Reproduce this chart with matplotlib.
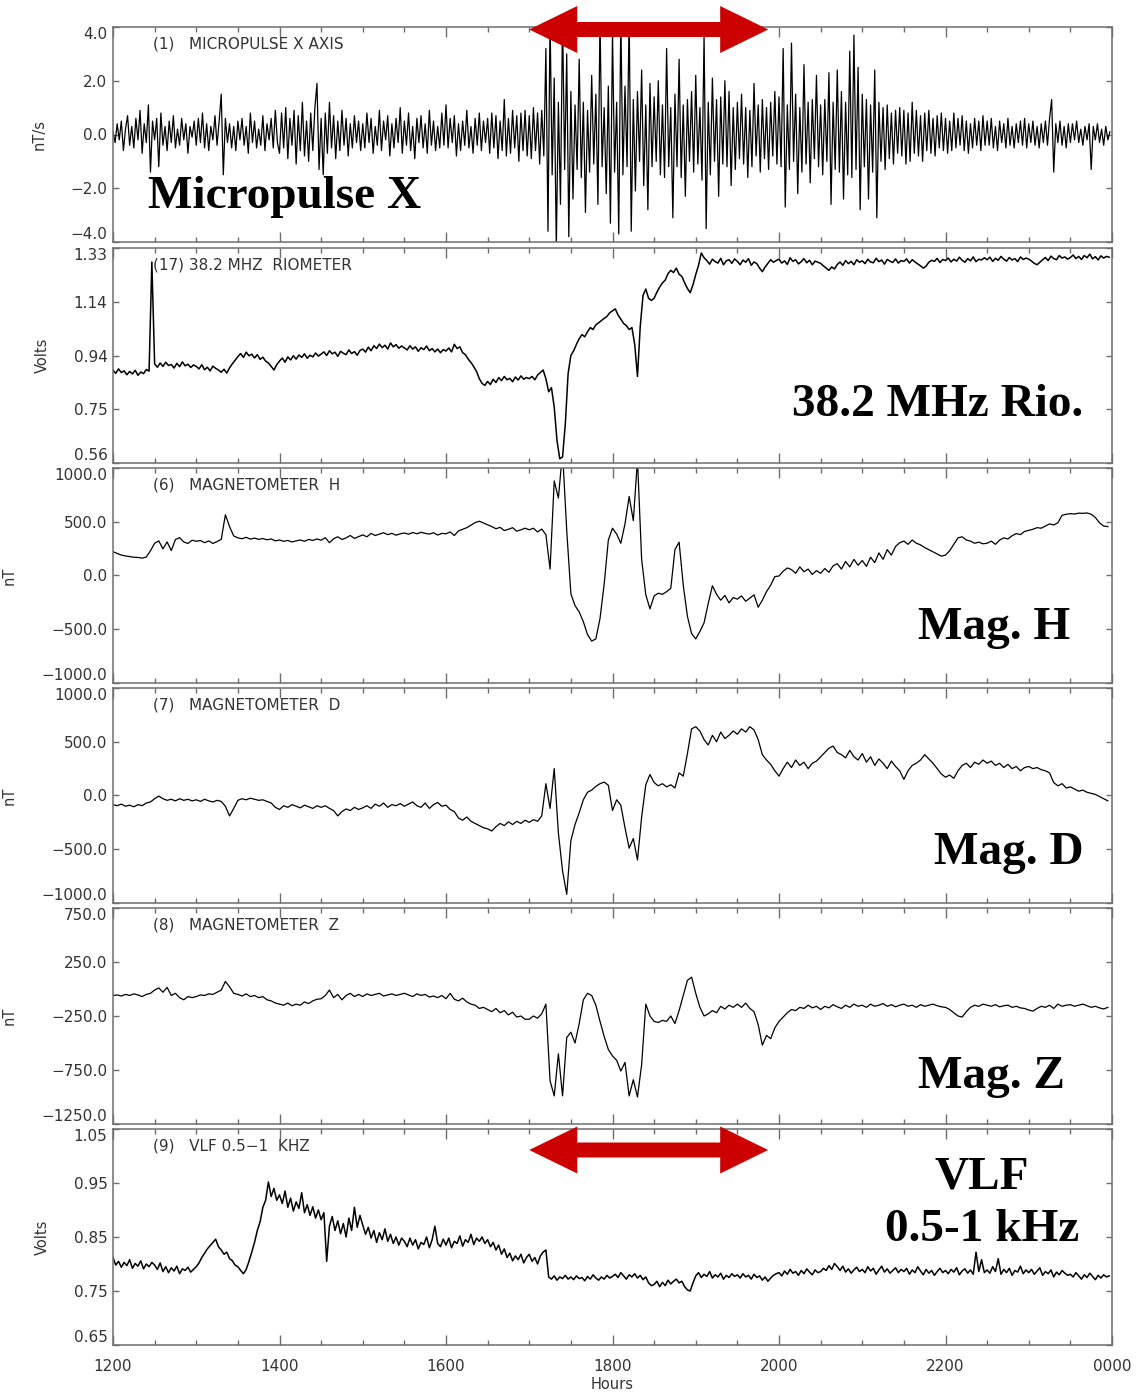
import numpy as np
import matplotlib
matplotlib.use('Agg')
from matplotlib import pyplot as plt
from matplotlib.patches import Polygon
from matplotlib.transforms import blended_transform_factory

# all series start at 1200 UT, times in hours
t0 = 12.0

# micropulse X axis, nT/s, one value every 1.5 min
micropulse_x = [
    0.1,-0.3,0.4,-0.2,0.5, -0.6,0.2,0.7,-0.4,0.3, -0.5,0.6,-0.2,0.9,-0.7, 0.4,-0.3,1.1,-1.4,0.5,
    -0.2,0.6,-1.2,0.8,-0.4, 0.3,-0.6,0.5,-0.3,0.7, -0.5,0.2,-0.4,0.6,-0.2, 0.4,-0.7,0.3,-0.1,0.5,
    -0.4,0.6,-0.3,0.8,-0.5, 0.4,-0.6,0.3,-0.2,0.7, -0.4,0.5,1.5,-1.5,0.6, -0.3,0.4,-0.5,0.3,-0.6,
    0.5,-0.2,0.6,-0.4,0.3, -0.7,0.8,-0.3,0.5,-0.5, 0.2,-0.4,0.7,-0.6,0.4, -0.2,0.6,-0.5,0.9,-0.3,
    -0.7,0.8,-0.5,1.0,-0.9, 0.6,-0.4,0.9,-1.1,0.7, -0.6,1.2,-0.8,0.5,-1.0, 0.8,-0.6,1.0,1.9,-1.3,
    0.6,-1.5,0.8,-0.7,1.2, -0.5,0.7,-0.9,0.5,-0.6, 0.9,-0.4,0.6,-0.8,0.4, -0.5,0.7,-0.3,0.5,-0.6,
    0.4,-0.5,0.8,-0.3,0.6, -0.7,0.3,-0.4,0.9,-0.6, 0.5,-0.2,0.7,-0.8,0.4, -0.5,0.6,-0.3,1.0,-0.7,
    0.5,-0.4,0.8,-0.6,0.3, -0.9,0.6,-0.3,0.7,-0.5, 0.4,-0.7,0.9,-0.4,0.5, -0.6,0.3,-0.5,0.8,-0.4,
    1.1,-0.5,0.6,-0.3,0.7, -0.8,0.4,-0.6,0.5,-0.4, 0.9,-0.5,0.3,-0.7,0.6, -0.4,0.8,-0.6,0.5,-0.3,
    0.6,-0.7,0.8,-0.5,0.7, -0.9,0.5,-0.6,1.3,-0.8, 0.6,-0.7,0.9,-0.5,0.7, -1.0,0.8,-0.6,0.9,-0.8,
    0.7,-0.9,1.0,-0.6,0.8, -1.1,0.9,-0.8,3.2,-3.6, 4.3,-1.5,2.1,-4.2,1.2, -2.6,4.4,-1.3,3.0,-3.8,
    1.6,-2.4,1.1,-1.3,2.8, -1.6,1.2,-2.9,0.9,-1.4, 2.2,-1.1,1.5,-2.6,4.3, -1.2,1.0,-2.2,1.8,-3.3,
    3.8,-1.4,1.2,-3.7,4.4, -1.5,1.8,-1.2,4.5,-3.6, 1.3,-2.1,1.6,-1.0,2.4, -1.9,1.1,-2.8,1.9,-1.2,
    1.4,-1.0,2.0,-1.5,1.1, -1.6,3.2,-1.2,1.0,-3.1, 1.5,-1.2,2.8,-1.6,1.1, -2.3,1.3,-1.0,1.6,-1.4,
    2.2,-1.1,1.0,-1.7,3.7, -3.5,1.2,-1.5,2.1,-1.0, 1.3,-2.3,1.4,-1.1,2.0, -1.2,1.6,-1.9,1.0,-1.3,
    1.2,-0.9,1.5,-1.1,1.0, -1.6,0.9,-1.2,1.9,-0.8, 1.1,-1.4,1.3,-0.9,1.0, -1.3,1.2,-0.8,1.6,-1.1,
    1.4,-1.2,3.2,-2.7,1.1, -1.3,3.4,-1.0,1.5,-2.2, 1.0,-1.4,2.6,-1.1,1.2, -1.8,1.3,-0.9,2.2,-1.2,
    1.1,-1.5,1.3,-1.0,2.3, -2.6,1.2,-1.3,2.4,-1.4, 1.6,-2.4,1.2,-1.5,3.1, -1.6,3.7,-1.3,2.5,-2.8,
    1.5,-1.2,1.3,-2.4,1.1, -1.4,2.4,-3.1,1.2,-1.0, 1.0,-1.3,1.1,-0.9,0.8, -1.1,0.9,-0.7,1.0,-0.8,
    0.9,-1.1,0.8,-1.0,1.2, -0.7,0.9,-0.8,0.7,-1.0, 0.8,-0.6,0.9,-0.7,0.6, -0.8,0.7,-0.5,0.8,-0.6,
    0.6,-0.7,0.5,-0.6,0.8, -0.5,0.6,-0.4,0.7,-0.6, 0.5,-0.7,0.4,-0.5,0.6, -0.4,0.5,-0.6,0.7,-0.4,
    0.5,-0.4,0.6,-0.5,0.3, -0.6,0.5,-0.3,0.4,-0.5, 0.6,-0.4,0.3,-0.5,0.4, -0.3,0.5,-0.4,0.6,-0.5,
    0.4,-0.3,0.5,-0.4,0.3, -0.5,0.4,-0.3,0.5,-0.4, 0.6,1.3,-1.4,0.4,-0.3, 0.5,-0.4,0.3,-0.5,0.4,
    -0.3,0.4,-0.2,0.5,-0.3, 0.2,-0.4,0.3,-0.2,0.4, -1.3,0.3,-0.2,0.4,-0.3, 0.2,-0.4,0.3,-0.2,0.1,
]

# 38.2 MHz riometer, volts, every 2 min
riometer = [
    0.893,0.881,0.897,0.884,0.890, 0.876,0.888,0.879,0.892,0.874, 0.886,0.880,0.895,0.889,1.280,
    0.915,0.903,0.918,0.906,0.921, 0.909,0.913,0.900,0.917,0.905, 0.922,0.908,0.914,0.902,0.911,
    0.906,0.897,0.912,0.894,0.903, 0.890,0.907,0.899,0.893,0.885, 0.896,0.882,0.901,0.915,0.928,
    0.941,0.952,0.938,0.957,0.944, 0.950,0.936,0.948,0.931,0.939, 0.925,0.918,0.906,0.893,0.912,
    0.925,0.936,0.921,0.940,0.929, 0.944,0.932,0.947,0.938,0.951, 0.935,0.946,0.940,0.954,0.943,
    0.950,0.958,0.945,0.962,0.951, 0.957,0.942,0.960,0.953,0.948, 0.965,0.952,0.959,0.946,0.963,
    0.968,0.957,0.975,0.962,0.980, 0.970,0.986,0.973,0.982,0.968, 0.990,0.976,0.984,0.971,0.979,
    0.972,0.965,0.980,0.968,0.976, 0.960,0.973,0.966,0.979,0.962, 0.970,0.958,0.968,0.955,0.966,
    0.961,0.972,0.958,0.985,0.970, 0.976,0.955,0.948,0.932,0.920, 0.905,0.888,0.862,0.845,0.838,
    0.852,0.841,0.860,0.848,0.866, 0.855,0.870,0.858,0.863,0.851, 0.868,0.857,0.872,0.860,0.866,
    0.862,0.870,0.858,0.875,0.884, 0.893,0.862,0.815,0.830,0.760, 0.640,0.575,0.582,0.700,0.880,
    0.945,0.962,0.985,1.005,1.020, 1.012,1.030,1.045,1.038,1.055, 1.062,1.070,1.078,1.085,1.098,
    1.105,1.112,1.090,1.075,1.060, 1.052,1.038,1.045,0.985,0.870, 1.050,1.160,1.183,1.150,1.142,
    1.150,1.172,1.190,1.205,1.215, 1.238,1.250,1.242,1.258,1.236, 1.228,1.205,1.185,1.170,1.198,
    1.235,1.268,1.312,1.295,1.285, 1.272,1.290,1.281,1.276,1.293, 1.270,1.284,1.288,1.275,1.291,
    1.282,1.270,1.287,1.279,1.292, 1.268,1.280,1.274,1.258,1.245, 1.262,1.275,1.288,1.279,1.285,
    1.290,1.276,1.284,1.271,1.295, 1.282,1.288,1.273,1.281,1.292, 1.277,1.286,1.270,1.283,1.279,
    1.275,1.266,1.258,1.250,1.262, 1.255,1.271,1.280,1.268,1.285, 1.274,1.282,1.270,1.288,1.279,
    1.284,1.274,1.290,1.280,1.277, 1.293,1.281,1.287,1.272,1.289, 1.283,1.278,1.291,1.276,1.285,
    1.282,1.291,1.276,1.288,1.280, 1.273,1.266,1.258,1.265,1.279, 1.286,1.282,1.293,1.278,1.289,
    1.285,1.294,1.280,1.290,1.283, 1.297,1.286,1.279,1.292,1.284, 1.298,1.281,1.290,1.287,1.295,
    1.288,1.297,1.282,1.293,1.286, 1.300,1.290,1.283,1.296,1.287, 1.292,1.281,1.298,1.289,1.294,
    1.290,1.283,1.275,1.270,1.279, 1.288,1.296,1.285,1.301,1.292, 1.288,1.303,1.294,1.298,1.290,
    1.296,1.305,1.292,1.300,1.289, 1.303,1.295,1.308,1.291,1.299, 1.287,1.302,1.294,1.300,1.297,
]

# magnetometer components, nT, every 3 min
mag_h = [
    222,205,190,182,176, 170,168,162,172,230,
    300,322,248,312,232, 335,352,312,298,328,
    318,326,305,322,298, 315,336,565,455,368,
    350,342,355,338,348, 336,344,332,340,322,
    330,318,326,312,322, 330,318,335,326,340,
    328,352,305,342,360, 335,350,372,345,362,
    378,360,392,372,385, 398,380,392,375,388,
    395,384,400,388,402, 392,385,398,376,392,
    388,405,372,415,430, 445,468,492,505,488,
    470,455,435,448,418, 430,445,412,425,440,
    425,440,405,432,380, 60,880,720,1150,420,
    -170,-280,-340,-430,-550, -610,-590,-400,-80,330,
    440,385,300,480,735, 510,1080,150,-180,-310,
    -190,-165,-175,-150,-120, 240,310,-90,-380,-540,
    -590,-520,-440,-260,-95, -175,-230,-185,-255,-205,
    -220,-190,-240,-210,-180, -295,-230,-150,-90,-10,
    -5,40,70,55,20, 80,35,60,10,45,
    20,65,30,90,110, 60,130,80,150,95,
    140,85,170,120,210, 150,240,190,270,305,
    320,290,330,300,285, 260,240,220,200,180,
    190,230,290,350,360, 330,320,300,310,295,
    300,320,290,330,350, 340,370,390,380,410,
    420,430,445,440,460, 480,470,490,560,570,
    575,572,580,578,582, 570,540,490,460,455,
]

mag_d = [
    -85,-95,-80,-100,-90, -105,-85,-95,-70,-60,
    -30,-5,-30,-45,-35, -50,-30,-45,-35,-50,
    -40,-55,-35,-50,-60, -45,-55,-100,-190,-120,
    -45,-30,-40,-25,-35, -45,-40,-55,-70,-110,
    -130,-95,-110,-85,-100, -115,-90,-105,-120,-95,
    -110,-95,-120,-140,-190, -150,-125,-140,-110,-130,
    -115,-95,-120,-80,-100, -70,-110,-85,-95,-75,
    -100,-80,-60,-95,-110, -70,-120,-85,-65,-100,
    -90,-130,-150,-210,-230, -200,-240,-260,-280,-300,
    -310,-330,-290,-260,-280, -245,-270,-240,-260,-230,
    -250,-225,-240,-190,110, -120,250,-350,-700,-920,
    -420,-270,-160,-40,30, 50,85,110,125,95,
    -140,-40,-90,-300,-490, -400,-600,-200,100,195,
    120,90,110,80,100, 70,210,180,390,620,
    640,600,520,470,560, 500,590,530,560,600,
    570,620,590,640,610, 520,380,330,290,230,
    180,250,310,260,330, 280,310,250,300,320,
    360,400,440,460,400, 380,350,420,360,330,
    390,310,360,280,340, 300,250,320,270,230,
    150,230,280,300,330, 380,340,300,250,200,
    170,190,160,230,280, 300,260,310,290,330,
    300,320,280,300,260, 290,250,270,230,260,
    270,250,260,240,230, 210,120,90,110,70,
    80,60,40,50,30, 20,10,-10,-30,-50,
]

mag_z = [
    -60,-55,-65,-50,-60, -45,-55,-70,-50,-40,
    -10,10,-30,15,-60, -40,-80,-100,-70,-80,
    -70,-55,-60,-45,-50, -30,-10,70,20,-40,
    -50,-65,-45,-70,-60, -80,-70,-100,-110,-130,
    -140,-150,-130,-155,-140, -150,-120,-135,-110,-95,
    -90,-60,-10,-80,-50, -100,-60,-40,-70,-50,
    -70,-45,-60,-50,-40, -65,-55,-45,-60,-50,
    -40,-55,-70,-45,-60, -50,-75,-65,-80,-60,
    -90,-40,-95,-110,-85, -120,-140,-150,-180,-170,
    -190,-210,-180,-220,-200, -240,-215,-260,-250,-280,
    -280,-250,-270,-230,-140, -850,-990,-600,-990,-450,
    -400,-500,-320,-100,-40, -60,-150,-300,-440,-560,
    -620,-660,-760,-680,-990, -840,-1000,-700,-140,-250,
    -300,-310,-290,-300,-250, -320,-200,-60,80,110,
    -40,-170,-250,-230,-200, -220,-160,-185,-150,-170,
    -140,-170,-130,-180,-210, -330,-520,-430,-460,-360,
    -300,-260,-220,-190,-200, -170,-180,-150,-175,-160,
    -190,-160,-175,-145,-165, -180,-150,-170,-140,-160,
    -150,-170,-140,-160,-150, -135,-160,-145,-165,-150,
    -140,-160,-150,-170,-145, -160,-150,-140,-155,-165,
    -170,-190,-220,-250,-260, -210,-170,-150,-160,-140,
    -150,-160,-145,-165,-155, -150,-170,-160,-175,-180,
    -195,-205,-180,-160,-170, -150,-180,-140,-160,-150,
    -145,-160,-150,-140,-155, -170,-160,-175,-185,-170,
]

# VLF 0.5-1 kHz channel, volts, every 2 min
vlf = [
    0.812,0.798,0.805,0.794,0.803, 0.797,0.808,0.792,0.801,0.796, 0.806,0.791,0.800,0.795,0.803,
    0.798,0.790,0.802,0.786,0.795, 0.784,0.793,0.787,0.796,0.782, 0.791,0.788,0.794,0.785,0.790,
    0.795,0.802,0.812,0.820,0.828, 0.834,0.840,0.846,0.832,0.826, 0.818,0.822,0.810,0.806,0.798,
    0.795,0.788,0.782,0.790,0.805, 0.822,0.840,0.862,0.878,0.905, 0.918,0.952,0.925,0.940,0.918,
    0.928,0.912,0.935,0.905,0.922, 0.898,0.915,0.903,0.932,0.895, 0.910,0.890,0.906,0.885,0.900,
    0.882,0.895,0.805,0.870,0.888, 0.862,0.880,0.856,0.875,0.850, 0.885,0.862,0.905,0.868,0.890,
    0.872,0.855,0.868,0.848,0.862, 0.840,0.858,0.845,0.865,0.842, 0.855,0.838,0.850,0.835,0.848,
    0.842,0.832,0.848,0.835,0.845, 0.828,0.840,0.836,0.850,0.830, 0.845,0.870,0.838,0.832,0.846,
    0.835,0.848,0.830,0.842,0.838, 0.852,0.833,0.845,0.840,0.855, 0.836,0.848,0.842,0.850,0.838,
    0.845,0.832,0.840,0.826,0.835, 0.818,0.828,0.812,0.820,0.806, 0.815,0.808,0.818,0.802,0.812,
    0.818,0.805,0.812,0.800,0.815, 0.822,0.826,0.776,0.772,0.778, 0.770,0.776,0.773,0.779,0.772,
    0.776,0.771,0.778,0.773,0.775, 0.769,0.777,0.772,0.780,0.774, 0.770,0.776,0.772,0.779,0.774,
    0.777,0.781,0.775,0.784,0.778, 0.772,0.780,0.776,0.782,0.774, 0.779,0.771,0.776,0.765,0.760,
    0.762,0.768,0.758,0.766,0.760, 0.770,0.763,0.768,0.772,0.765, 0.768,0.758,0.752,0.750,0.765,
    0.778,0.784,0.775,0.781,0.777, 0.786,0.774,0.780,0.776,0.783, 0.772,0.779,0.775,0.782,0.777,
    0.780,0.774,0.782,0.776,0.779, 0.772,0.781,0.775,0.778,0.770, 0.776,0.768,0.774,0.779,0.782,
    0.784,0.778,0.787,0.781,0.790, 0.783,0.786,0.779,0.788,0.782, 0.791,0.785,0.780,0.789,0.784,
    0.786,0.792,0.788,0.797,0.790, 0.801,0.795,0.788,0.796,0.785, 0.791,0.783,0.789,0.794,0.786,
    0.790,0.784,0.795,0.787,0.792, 0.781,0.789,0.796,0.785,0.791, 0.783,0.788,0.793,0.784,0.790,
    0.786,0.792,0.781,0.789,0.784, 0.795,0.787,0.780,0.790,0.783, 0.788,0.779,0.786,0.792,0.784,
    0.788,0.782,0.790,0.785,0.793, 0.780,0.787,0.791,0.783,0.789, 0.781,0.822,0.786,0.808,0.784,
    0.789,0.783,0.795,0.786,0.810, 0.781,0.790,0.784,0.792,0.779, 0.788,0.785,0.796,0.782,0.789,
    0.784,0.790,0.781,0.787,0.793, 0.779,0.786,0.782,0.789,0.776, 0.785,0.780,0.788,0.783,0.779,
    0.781,0.776,0.784,0.778,0.772, 0.780,0.775,0.783,0.777,0.771, 0.779,0.774,0.780,0.776,0.778,
]

hour_ticks = [12, 14, 16, 18, 20, 22, 24]
hour_labels = ['1200', '1400', '1600', '1800', '2000', '2200', '0000']

# interval marked with the red arrows (hours)
arrow_span = [17.0, 19.87]

M = '\u2212'
panels = [
    dict(y=micropulse_x, dt=1.5/60, lim=(-4, 4), ticks=[-4, -2, 0, 2, 4],
         labels=[M+'4.0', M+'2.0', '0.0', '2.0', '4.0'], unit='nT/s', lw=0.9,
         title='(1)   MICROPULSE X AXIS', name='Micropulse X'),
    dict(y=riometer, dt=2/60, lim=(0.56, 1.33), ticks=list(np.linspace(0.56, 1.33, 5)),
         labels=['0.56', '0.75', '0.94', '1.14', '1.33'], unit='Volts', lw=1.1,
         title='(17) 38.2 MHZ  RIOMETER', name='38.2 MHz Rio.'),
    dict(y=mag_h, dt=3/60, lim=(-1000, 1000), ticks=[-1000, -500, 0, 500, 1000],
         labels=[M+'1000.0', M+'500.0', '0.0', '500.0', '1000.0'], unit='nT', lw=0.9,
         title='(6)   MAGNETOMETER  H', name='Mag. H'),
    dict(y=mag_d, dt=3/60, lim=(-1000, 1000), ticks=[-1000, -500, 0, 500, 1000],
         labels=[M+'1000.0', M+'500.0', '0.0', '500.0', '1000.0'], unit='nT', lw=0.9,
         title='(7)   MAGNETOMETER  D', name='Mag. D'),
    dict(y=mag_z, dt=3/60, lim=(-1250, 750), ticks=[-1250, -750, -250, 250, 750],
         labels=[M+'1250.0', M+'750.0', M+'250.0', '250.0', '750.0'], unit='nT', lw=0.9,
         title='(8)   MAGNETOMETER  Z', name='Mag. Z'),
    dict(y=vlf, dt=2/60, lim=(0.65, 1.05), ticks=[0.65, 0.75, 0.85, 0.95, 1.05],
         labels=['0.65', '0.75', '0.85', '0.95', '1.05'], unit='Volts', lw=1.1,
         title='(9)   VLF 0.5' + M + '1  KHZ', name='VLF\n0.5-1 kHz'),
]

# page layout in pixels
W, H = 1136.0, 1392.0
x_left, x_right = 113, 1112
rows = [(27, 242), (248, 463), (468, 683), (688, 903), (908, 1124), (1129, 1345)]
# big name: (x in axes, y in axes, ha)
name_pos = [(0.035, 0.21, 'left'), (0.971, 0.27, 'right'), (0.958, 0.256, 'right'),
            (0.971, 0.233, 'right'), (0.953, 0.218, 'right'), (0.87, 0.655, 'center')]
unit_x = [-0.066, -0.063, -0.096, -0.096, -0.096, -0.063]

gray = '#6e6e6e'
txt = '#333333'

fig = plt.figure(figsize=(W / 100, H / 100), dpi=100)
axes = []

for i, p in enumerate(panels):
    top, bot = rows[i]
    ax = fig.add_axes([x_left / W, 1 - bot / H, (x_right - x_left) / W, (bot - top) / H])
    axes.append(ax)
    y = np.array(p['y'], dtype=float)
    t = t0 + np.arange(len(y)) * p['dt']
    ax.plot(t, y, color='black', lw=p['lw'])
    ax.set_xlim(12, 24)
    ax.set_ylim(*p['lim'])

    ax.set_xticks(hour_ticks)
    ax.set_xticks(np.arange(12, 24.01, 0.5), minor=True)
    ax.set_yticks(p['ticks'])
    ax.set_yticklabels(p['labels'])
    tl = ax.get_yticklabels()
    tl[0].set_va('bottom')
    tl[-1].set_va('top')
    ax.tick_params(axis='both', which='both', direction='in', top=True, right=True,
                   colors=gray, labelcolor=txt, labelsize=11, width=1)
    ax.tick_params(axis='x', which='major', length=7.5, pad=10)
    ax.tick_params(axis='x', which='minor', length=3.5)
    ax.tick_params(axis='y', which='major', length=4, pad=4)
    if i < len(panels) - 1:
        ax.set_xticklabels([])
    else:
        ax.set_xticklabels(hour_labels)
        ax.set_xlabel('Hours', fontsize=10.5, color=txt, labelpad=2)
    for s in ax.spines.values():
        s.set_color(gray)
        s.set_linewidth(1.1)

    ax.set_ylabel(p['unit'], fontsize=10.5, color=txt)
    ax.yaxis.set_label_coords(unit_x[i], 0.5)

    ax.text(0.04, 0.921, p['title'], transform=ax.transAxes, fontsize=11,
            color=txt, va='center', ha='left')
    nx, ny, nha = name_pos[i]
    ax.text(nx, ny, p['name'], transform=ax.transAxes, fontsize=34,
            family='Liberation Serif', fontweight='bold', ha=nha, va='center',
            linespacing=1.32, zorder=5)


def double_arrow(ax, x0, x1, yc):
    # red block arrow, x in hours, y in figure fraction
    trans = blended_transform_factory(ax.transData, fig.transFigure)
    hl = 48 / 83.25
    hw = 23.5 / H
    sw = 7.5 / H
    pts = [(x0, yc), (x0 + hl, yc + hw), (x0 + hl, yc + sw), (x1 - hl, yc + sw),
           (x1 - hl, yc + hw), (x1, yc), (x1 - hl, yc - hw), (x1 - hl, yc - sw),
           (x0 + hl, yc - sw), (x0 + hl, yc - hw)]
    ax.add_patch(Polygon(pts, closed=True, transform=trans, facecolor='#cc0000',
                         edgecolor='none', clip_on=False, zorder=10))


double_arrow(axes[0], arrow_span[0], arrow_span[1], 1 - 29.5 / H)
double_arrow(axes[5], arrow_span[0], arrow_span[1], 1 - 1150 / H)

fig.savefig('out.png', dpi=100)
